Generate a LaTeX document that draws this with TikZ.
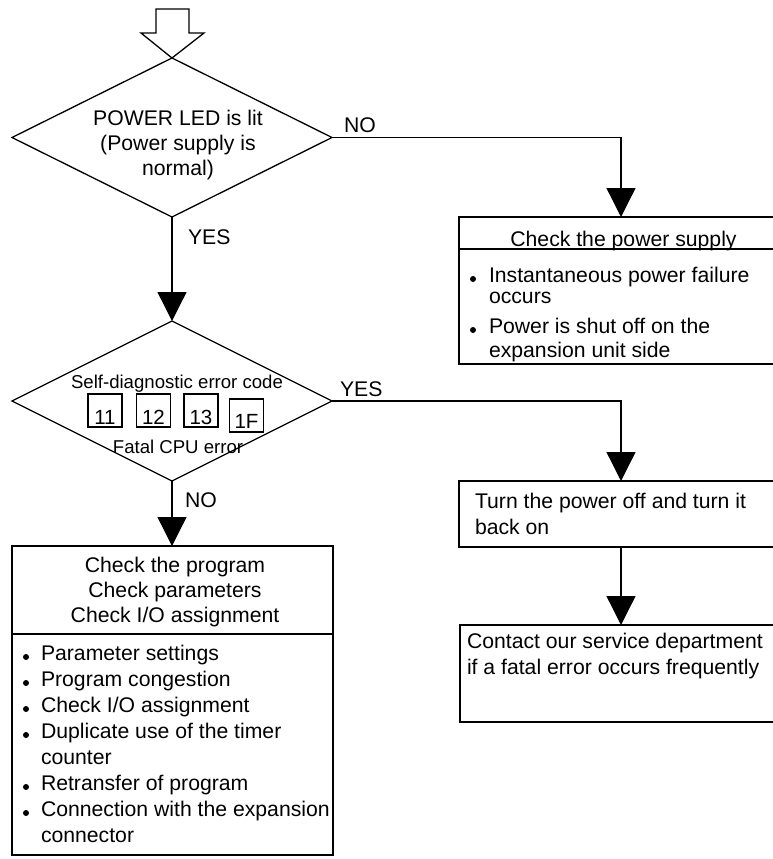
\documentclass[tikz,border=0pt]{standalone}
\usepackage{fontspec}
\setmainfont{Liberation Sans}
\usetikzlibrary{shapes.geometric,arrows.meta,calc}
\begin{document}
\begin{tikzpicture}[x=1pt,y=-1pt,line width=1.3pt,
  every node/.style={inner sep=0pt,outer sep=0pt},
  tx/.style={font=\fontsize{21.2}{25.5}\selectfont,anchor=base west},
  txc/.style={font=\fontsize{21.2}{25.5}\selectfont,anchor=base},
  sm/.style={font=\fontsize{18.6}{22}\selectfont,anchor=base},
  dg/.style={font=\fontsize{20.5}{22}\selectfont,anchor=base},
  dec/.style={diamond,draw,minimum width=320pt,minimum height=160pt},
  boxn/.style={draw,rectangle,anchor=north west},
  codebox/.style={draw,rectangle,minimum width=34pt,minimum height=33pt},
  arr/.style={-{Triangle[length=29pt,width=29pt]}},
  bulletdot/.style={circle,fill,minimum size=6pt}
]
\useasboundingbox (0,0) rectangle (773,859);
\clip (0,0) rectangle (773,859);

% open start arrow
\draw (156,9) -- (189,9) -- (189,33) -- (204,33) -- (172,58) -- (141,33) -- (156,33) -- cycle;

% decision 1
\node[dec,minimum height=159pt] (d1) at (172,137.5) {};
\node[txc] (t1a) at (178,125) {POWER LED is lit};
\node[txc] (t1b) at (178,150) {(Power supply is};
\node[txc] (t1c) at (178,175) {normal)};

% decision 2
\node[dec] (d2) at (172,401) {};
\node[sm] (t2a) at (177,388) {Self-diagnostic error code};
\node[codebox] (c11) at (105,410.5) {};
\node[codebox] (c12) at (153.5,410.5) {};
\node[codebox] (c13) at (201,410.5) {};
\node[codebox] (c1F) at (246.5,415.5) {};
\node[dg] (n11) at (105,424.5) {11};
\node[dg] (n12) at (153.5,424.5) {12};
\node[dg] (n13) at (201,424.5) {13};
\node[dg] (n1F) at (246.5,428) {1F};
\node[sm] (t2b) at (178,453) {Fatal CPU error};

% labels
\node[tx] (no1) at (344,132) {NO};
\node[tx] (yes1) at (188,244) {YES};
\node[tx] (yes2) at (340,396) {YES};
\node[tx] (no2) at (185,507) {NO};

% power supply box
\node[boxn,minimum width=331pt,minimum height=147pt] (ps) at (459,217) {};
\draw ($(ps.north west)+(0,32)$) -- ($(ps.north east)+(0,32)$);
\node[txc] (psh) at (623.5,246) {Check the power supply};
\node[bulletdot] (psb1) at (473,279) {};
\node[tx] (ps1) at (489,282) {Instantaneous power failure};
\node[tx] (ps2) at (489,303) {occurs};
\node[bulletdot] (psb2) at (473,330) {};
\node[tx] (ps3) at (489,333) {Power is shut off on the};
\node[tx] (ps4) at (489,357) {expansion unit side};

% turn power box
\node[boxn,minimum width=331pt,minimum height=66pt] (turn) at (459,481) {};
\node[tx] (tu1) at (475,508) {Turn the power off and turn it};
\node[tx] (tu2) at (475,534) {back on};

% contact box
\node[boxn,minimum width=331pt,minimum height=97pt] (contact) at (460,625) {};
\node[tx] (co1) at (467,648) {Contact our service department};
\node[tx] (co2) at (467,674) {if a fatal error occurs frequently};

% program box
\node[boxn,minimum width=321pt,minimum height=309pt] (prog) at (12,546) {};
\draw ($(prog.north west)+(0,88)$) -- ($(prog.north east)+(0,88)$);
\node[txc] (ph1) at (175,572) {Check the program};
\node[txc] (ph2) at (175,597) {Check parameters};
\node[txc] (ph3) at (175,622) {Check I/O assignment};
\node[bulletdot] (pb1) at (26,657) {};
\node[tx] (p1) at (41,660) {Parameter settings};
\node[bulletdot] (pb2) at (26,683) {};
\node[tx] (p2) at (41,686) {Program congestion};
\node[bulletdot] (pb3) at (26,709) {};
\node[tx] (p3) at (41,712) {Check I/O assignment};
\node[bulletdot] (pb4) at (26,735) {};
\node[tx] (p4) at (41,738) {Duplicate use of the timer};
\node[tx] (p5) at (41,764) {counter};
\node[bulletdot] (pb5) at (26,787) {};
\node[tx] (p6) at (41,790) {Retransfer of program};
\node[bulletdot] (pb6) at (26,813) {};
\node[tx] (p7) at (41,816) {Connection with the expansion};
\node[tx] (p8) at (41,842) {connector};

% connectors
\coordinate (cx) at (621,0);
\draw[arr] (d1.south) -- (d2.north);
\draw[arr] (d1.east) -| (ps.north -| cx);
\draw[arr] (d2.east) -| (turn.north -| cx);
\draw[arr] (turn.south -| cx) -- (contact.north -| cx);
\draw[arr] (d2.south) -- (prog.north -| d2.south);
\end{tikzpicture}
\end{document}
